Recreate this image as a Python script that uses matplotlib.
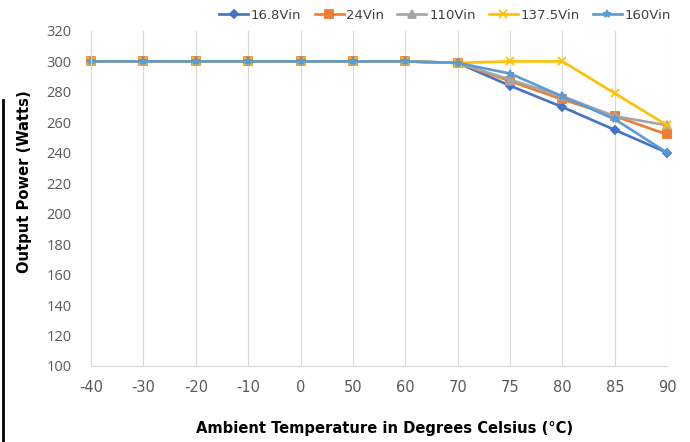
import matplotlib.pyplot as plt
from matplotlib.lines import Line2D

temps = ['-40', '-30', '-20', '-10', '0', '50', '60', '70', '75', '80', '85', '90']
flat = [300, 300, 300, 300, 300, 300, 300, 299]
v16_8 = flat + [284, 270, 255, 240]
v24 = flat + [287, 275, 264, 252]
v110 = flat + [288, 277, 264, 258]
v137_5 = flat + [300, 300, 279, 258]
v160 = flat + [292, 277, 262, 240]

series = [
    ('16.8Vin', v16_8, '#4472C4', 'D', 4.5),
    ('24Vin', v24, '#ED7D31', 's', 5.5),
    ('110Vin', v110, '#A5A5A5', '^', 5.5),
    ('137.5Vin', v137_5, '#FFC000', 'x', 5.5),
    ('160Vin', v160, '#5B9BD5', '*', 5.5),
]

fig = plt.figure(figsize=(6.9, 4.42), dpi=100)
ax = fig.add_axes([0.132, 0.172, 0.835, 0.758])

x = list(range(len(temps)))
for name, vals, col, mk, ms in series:
    ax.plot(x, vals, color=col, lw=1.9, marker=mk, ms=ms, mew=1.3,
            mfc=col, mec=col, label=name, clip_on=False)

ax.set_xlim(0, len(temps) - 1)
ax.set_ylim(100, 320)
ax.set_yticks(range(100, 321, 20))
ax.set_xticks(x)
ax.set_xticklabels(temps)
ax.xaxis.grid(True, color='#d9d9d9', lw=0.8)
ax.set_axisbelow(True)
for s in ['top', 'right']:
    ax.spines[s].set_visible(False)
for s in ['left', 'bottom']:
    ax.spines[s].set_color('#d9d9d9')
    ax.spines[s].set_linewidth(0.8)
ax.tick_params(length=0, colors='#595959', labelsize=10.5)
ax.tick_params(axis='x', pad=10)
ax.tick_params(axis='y', pad=14)
for lab in ax.get_xticklabels():
    lab.set_fontfamily('DejaVu Sans')
for lab in ax.get_yticklabels():
    lab.set_fontfamily('Open Sans')

bold = dict(family='DejaVu Sans', stretch='condensed', weight='bold', size=11.8)
fig.text(0.036, 0.59, 'Output Power (Watts)', rotation=90, ha='center', va='center', **bold)
fig.text(0.558, 0.03, 'Ambient Temperature in Degrees Celsius (°C)', ha='center', va='center', **bold)

leg = fig.legend(loc='center', bbox_to_anchor=(0.645, 0.966), ncol=5, frameon=False,
                 fontsize=9.5, handlelength=2.2, handletextpad=0.2, columnspacing=1.0)
for t in leg.get_texts():
    t.set_color('#404040')

fig.add_artist(Line2D([0.004, 0.004], [0, 1 - 100 / 442], color='black', lw=2))

fig.savefig('out.png', dpi=100)
